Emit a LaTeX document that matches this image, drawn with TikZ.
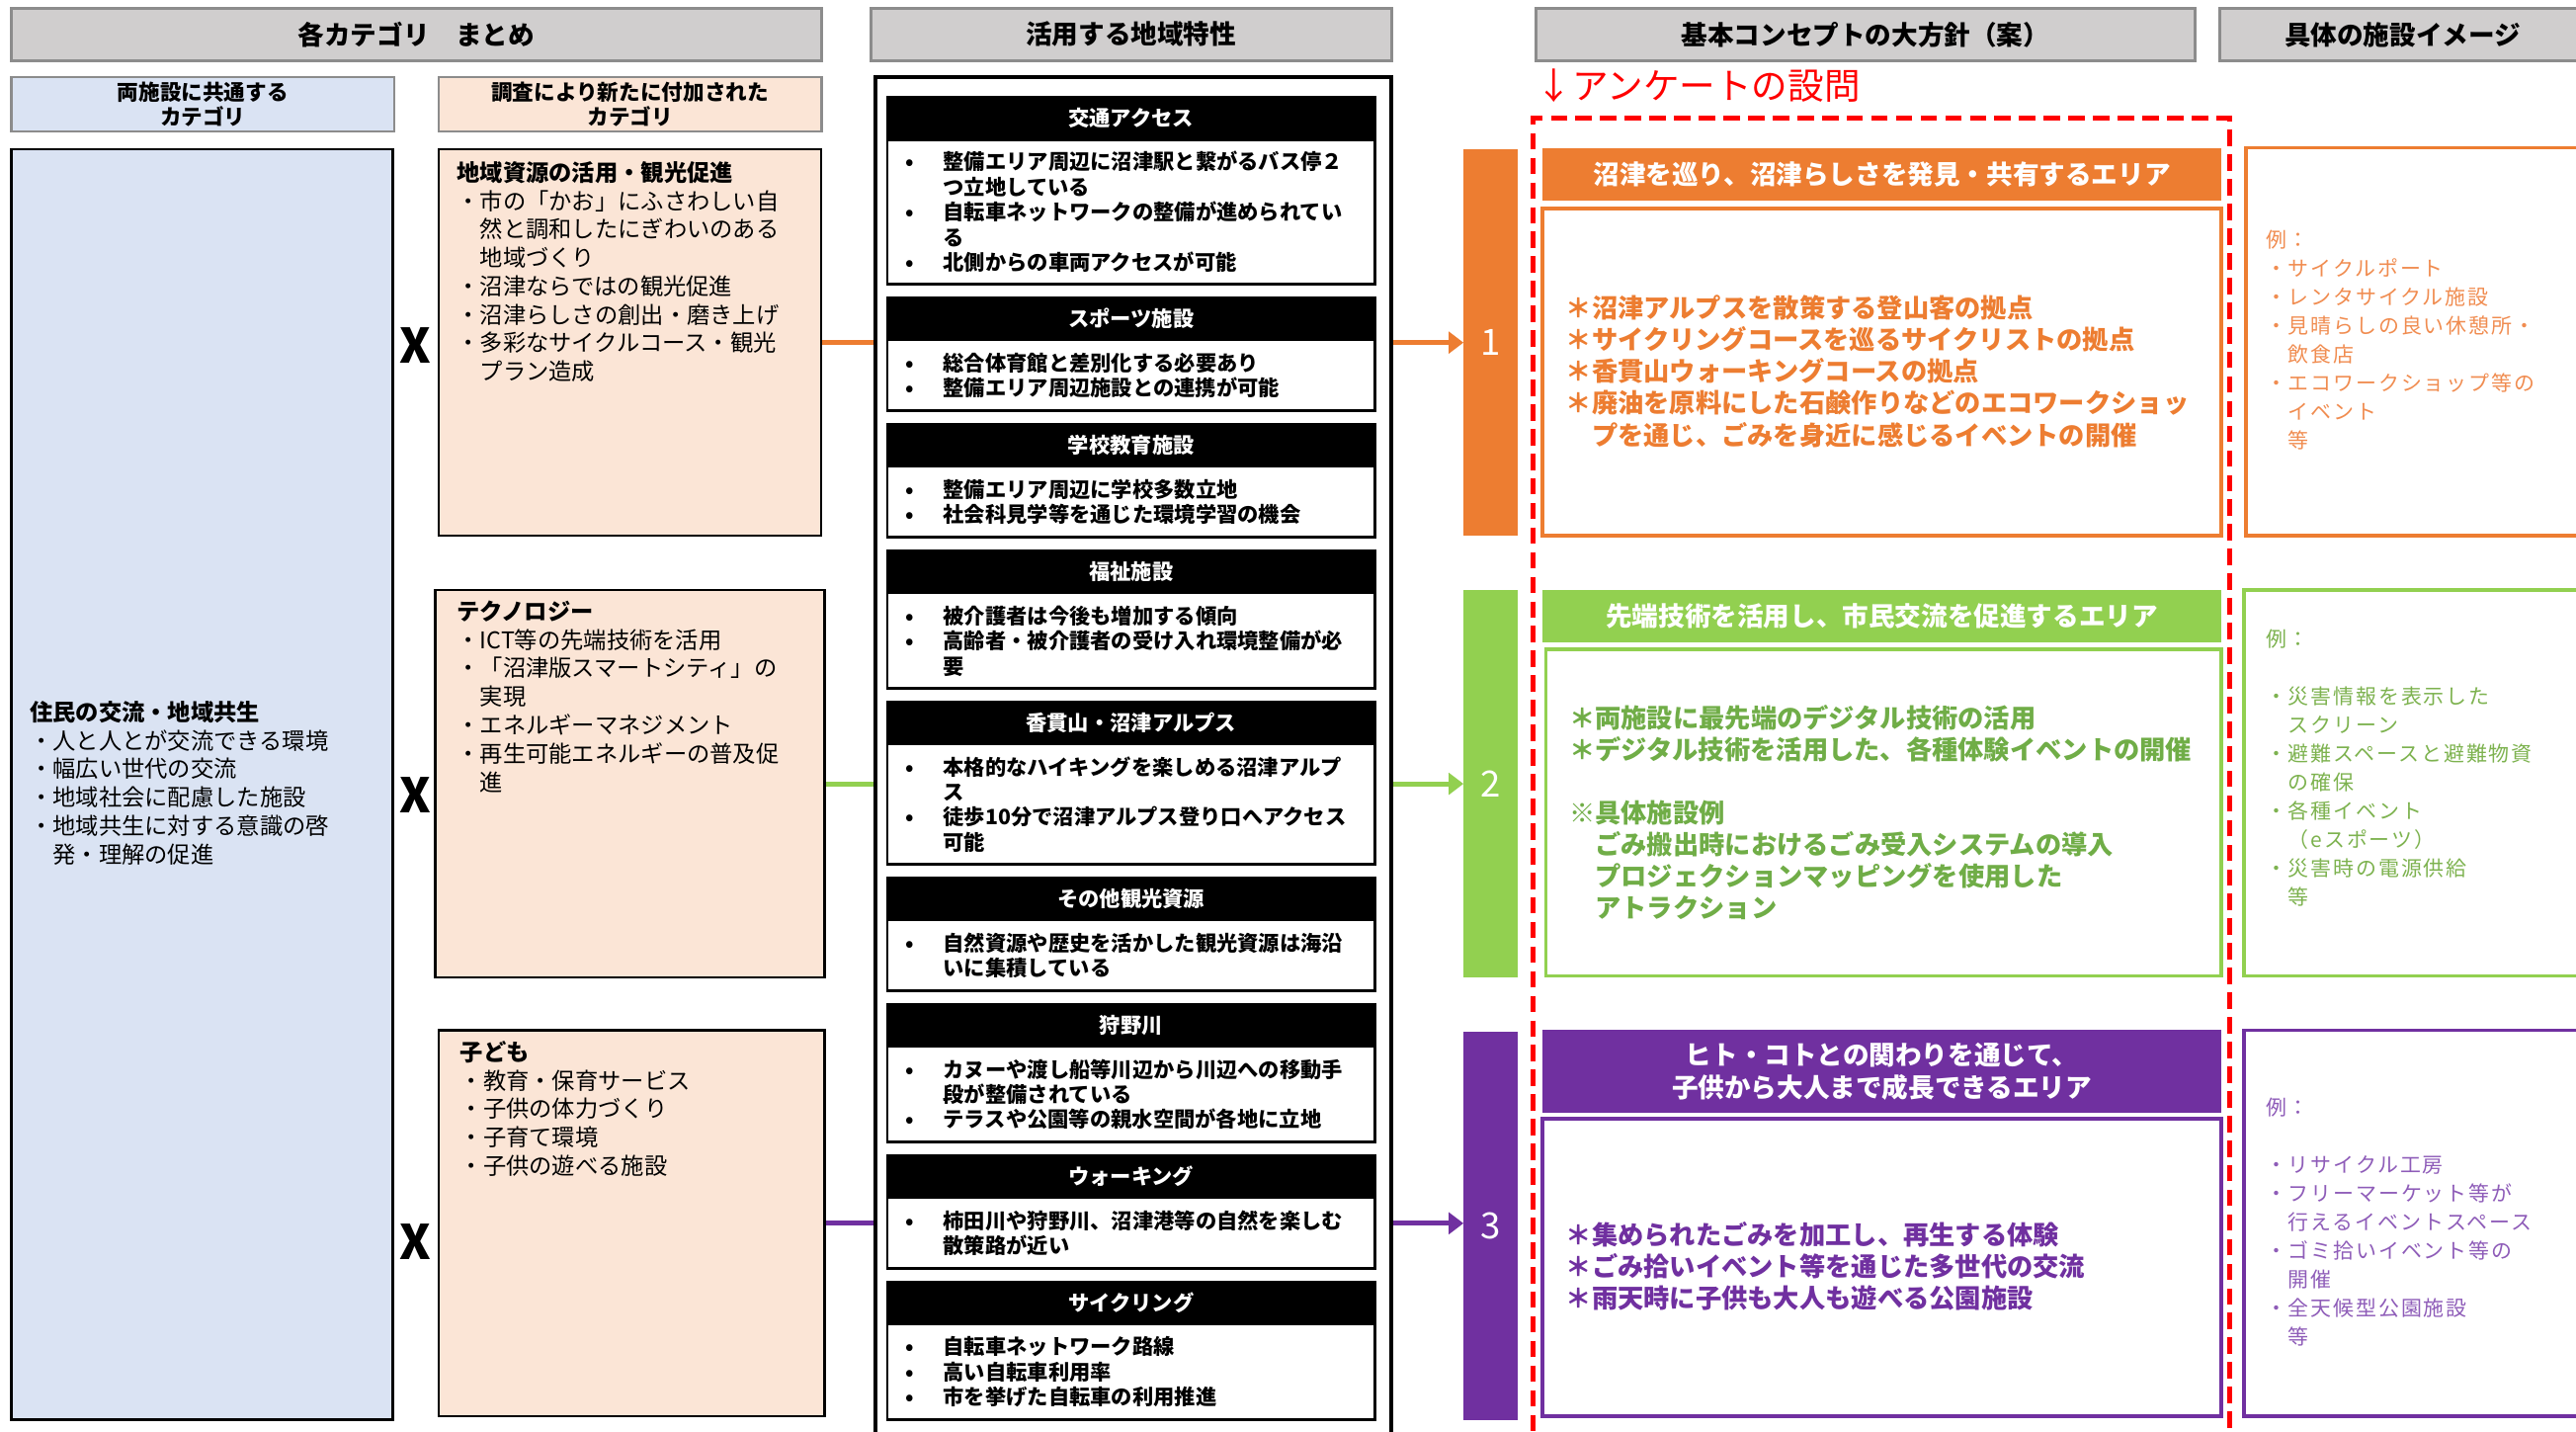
\documentclass[tikz,border=0pt]{standalone}
\usepackage{fontspec}
\setmainfont{Noto Sans CJK JP}
\newfontfamily\jpsp[LetterSpace=9]{Noto Sans CJK JP}
\usetikzlibrary{arrows.meta}
\definecolor{orgC}{HTML}{ED7D31}
\definecolor{grnC}{HTML}{92D050}
\definecolor{grnT}{HTML}{70AD47}
\definecolor{purC}{HTML}{7030A0}
\definecolor{peach}{HTML}{FBE5D6}
\definecolor{lblue}{HTML}{DAE3F3}
\definecolor{hgray}{HTML}{D0CECE}
\definecolor{bgray}{HTML}{8C8C8C}
\definecolor{orgL}{HTML}{F08C50}
\definecolor{grnL}{HTML}{7DB24F}
\definecolor{purL}{HTML}{8E5CB8}
\newcommand\fs[2]{\fontsize{#1}{#2}\selectfont}
\newcommand\bul{\makebox[26pt][l]{\hspace{3pt}•}}
\newcommand\ind{\makebox[26pt]{}}
\tikzset{
 hdr/.style={draw=bgray, fill=hgray, line width=1.6pt, minimum height=32pt, font=\fs{16}{19}\bfseries, inner sep=0},
 subhdr/.style={draw=bgray, line width=1.6pt, minimum height=33pt, align=center, font=\fs{13}{15}\bfseries, inner sep=0},
 catbox/.style={draw=black, line width=1.4pt, inner sep=0},
 cattxt/.style={anchor=north west, inner sep=0, align=left, font=\fs{14}{17.3}},
 sechead/.style={fill=black, draw=black, line width=1.2pt, text=white, font=\fs{12.8}{15}\bfseries, minimum width=297pt, minimum height=26pt, inner sep=0},
 secbody/.style={draw=black, fill=white, line width=1.5pt, minimum width=297pt, inner sep=0},
 sectxt/.style={anchor=west, inner sep=0, align=left, font=\fs{12.8}{15.3}\bfseries},
 numbar/.style={minimum width=33pt, inner sep=0, text=white, font=\fs{22}{24}},
 cband/.style={minimum width=413pt, inner sep=0, text=white, font=\fs{16}{20}\bfseries, align=center},
 cbody/.style={fill=white, line width=2.2pt, inner sep=0},
 ctxt/.style={anchor=north west, inner sep=0, align=left, font=\fs{15.8}{19.3}\bfseries},
 ibox/.style={line width=2.2pt, inner sep=0},
 itxt/.style={anchor=north west, inner sep=0, align=left, font=\jpsp\fs{12.6}{17.4}},
 xmark/.style={font=\fs{29}{29}\bfseries, inner sep=0},
 conn/.style={line width=3pt, -{Triangle[length=9pt,width=13pt]}},
}
\begin{document}
\begin{tikzpicture}[x=1pt,y=-1pt]
\useasboundingbox (0,0) rectangle (1568,871);
% ---------- headers
\node[hdr, minimum width=493pt] (hA) at (253.5,21) {各カテゴリ　まとめ};
\node[hdr, minimum width=317pt] (hB) at (688.5,21) {活用する地域特性};
\node[hdr, minimum width=401pt] (hC) at (1135.5,21) {基本コンセプトの大方針（案）};
\node[hdr, minimum width=223pt] (hD) at (1462.5,21) {具体の施設イメージ};
\node[subhdr, fill=lblue, minimum width=233pt] (sA) at (123.5,63.5) {両施設に共通する\\カテゴリ};
\node[subhdr, fill=peach, minimum width=233pt] (sB) at (383.5,63.5) {調査により新たに付加された\\カテゴリ};
% ---------- category boxes
\node[catbox, fill=lblue, minimum width=232pt, minimum height=773pt] (cA) at (123,477.5) {};
\node[catbox, fill=peach, minimum width=233pt, minimum height=235pt] (c1) at (383.5,208.5) {};
\node[catbox, fill=peach, minimum width=237pt, minimum height=236pt] (c2) at (383.5,477) {};
\node[catbox, fill=peach, minimum width=235pt, minimum height=235pt] (c3) at (384.5,744.5) {};
\node[cattxt] (tA) at (18,426.4) {\textbf{住民の交流・地域共生}\\・人と人とが交流できる環境\\・幅広い世代の交流\\・地域社会に配慮した施設\\・地域共生に対する意識の啓\\　発・理解の促進};
\node[cattxt] (t1) at (278,98) {\textbf{地域資源の活用・観光促進}\\・市の「かお」にふさわしい自\\　然と調和したにぎわいのある\\　地域づくり\\・沼津ならではの観光促進\\・沼津らしさの創出・磨き上げ\\・多彩なサイクルコース・観光\\　プラン造成};
\node[cattxt] (t2) at (278,365.4) {\textbf{テクノロジー}\\・ICT等の先端技術を活用\\・「沼津版スマートシティ」の\\　実現\\・エネルギーマネジメント\\・再生可能エネルギーの普及促\\　進};
\node[cattxt] (t3) at (280,633.4) {\textbf{子ども}\\・教育・保育サービス\\・子供の体力づくり\\・子育て環境\\・子供の遊べる施設};
\node[xmark] (x1) at (253,210) {X};
\node[xmark] (x2) at (253,484) {X};
\node[xmark] (x3) at (253,756) {X};
% ---------- number bars
\node[numbar, fill=orgC, minimum height=235pt] (n1) at (907.5,208.5) {1};
\node[numbar, fill=grnC, minimum height=236pt] (n2) at (907.5,477) {2};
\node[numbar, fill=purC, minimum height=236pt] (n3) at (907.5,746) {3};
% ---------- connectors
\draw[conn, orgC] (c1.east) -- (c1.east -| n1.west);
\draw[conn, grnC] (c2.east) -- (c2.east -| n2.west);
\draw[conn, purC] (c3.east) -- (c3.east -| n3.west);
% ---------- column 2
\node[draw=black, fill=white, line width=2.6pt, minimum width=314pt, minimum height=833pt, inner sep=0] (kb) at (690,463.5) {};
\node[secbody, minimum height=88pt] (k1b) at (688.5,129) {};
\node[sechead] (k1h) at (688.5,72) {交通アクセス};
\node[sectxt] (k1t) at (548,129) {\bul 整備エリア周辺に沼津駅と繋がるバス停２\\\ind つ立地している\\\bul 自転車ネットワークの整備が進められてい\\\ind る\\\bul 北側からの車両アクセスが可能};
\node[secbody, minimum height=43pt] (k2b) at (688.5,228.5) {};
\node[sechead] (k2h) at (688.5,194) {スポーツ施設};
\node[sectxt] (k2t) at (548,228.5) {\bul 総合体育館と差別化する必要あり\\\bul 整備エリア周辺施設との連携が可能};
\node[secbody, minimum height=43pt] (k3b) at (688.5,305.5) {};
\node[sechead] (k3h) at (688.5,271) {学校教育施設};
\node[sectxt] (k3t) at (548,305.5) {\bul 整備エリア周辺に学校多数立地\\\bul 社会科見学等を通じた環境学習の機会};
\node[secbody, minimum height=58pt] (k4b) at (688.5,390) {};
\node[sechead] (k4h) at (688.5,348) {福祉施設};
\node[sectxt] (k4t) at (548,390) {\bul 被介護者は今後も増加する傾向\\\bul 高齢者・被介護者の受け入れ環境整備が必\\\ind 要};
\node[secbody, minimum height=73pt] (k5b) at (688.5,489.5) {};
\node[sechead] (k5h) at (688.5,440) {香貫山・沼津アルプス};
\node[sectxt] (k5t) at (548,489.5) {\bul 本格的なハイキングを楽しめる沼津アルプ\\\ind ス\\\bul 徒歩10分で沼津アルプス登り口へアクセス\\\ind 可能};
\node[secbody, minimum height=43pt] (k6b) at (688.5,581.5) {};
\node[sechead] (k6h) at (688.5,547) {その他観光資源};
\node[sectxt] (k6t) at (548,581.5) {\bul 自然資源や歴史を活かした観光資源は海沿\\\ind いに集積している};
\node[secbody, minimum height=58pt] (k7b) at (688.5,666) {};
\node[sechead] (k7h) at (688.5,624) {狩野川};
\node[sectxt] (k7t) at (548,666) {\bul カヌーや渡し船等川辺から川辺への移動手\\\ind 段が整備されている\\\bul テラスや公園等の親水空間が各地に立地};
\node[secbody, minimum height=43pt] (k8b) at (688.5,750.5) {};
\node[sechead] (k8h) at (688.5,716) {ウォーキング};
\node[sectxt] (k8t) at (548,750.5) {\bul 柿田川や狩野川、沼津港等の自然を楽しむ\\\ind 散策路が近い};
\node[secbody, minimum height=58pt] (k9b) at (688.5,835) {};
\node[sechead] (k9h) at (688.5,793) {サイクリング};
\node[sectxt] (k9t) at (548,835) {\bul 自転車ネットワーク路線\\\bul 高い自転車利用率\\\bul 市を挙げた自転車の利用推進};
% ---------- column 3
\node[anchor=west, text=red, font=\fs{22}{24}, inner sep=0] (qlab) at (935,52) {↓アンケートの設問};
\node[cband, fill=orgC, minimum height=32pt] (b1) at (1145.5,106) {沼津を巡り、沼津らしさを発見・共有するエリア};
\node[cbody, draw=orgC, minimum width=413pt, minimum height=199pt] (d1) at (1145.5,226.5) {};
\node[ctxt, text=orgC] (d1t) at (953,179.6) {＊沼津アルプスを散策する登山客の拠点\\＊サイクリングコースを巡るサイクリストの拠点\\＊香貫山ウォーキングコースの拠点\\＊廃油を原料にした石鹸作りなどのエコワークショッ\\　プを通じ、ごみを身近に感じるイベントの開催};
\node[cband, fill=grnC, minimum height=32pt] (b2) at (1145.5,375) {先端技術を活用し、市民交流を促進するエリア};
\node[cbody, draw=grnC, minimum width=411pt, minimum height=199pt] (d2) at (1146.5,494.5) {};
\node[ctxt, text=grnT] (d2t) at (955,428.6) {＊両施設に最先端のデジタル技術の活用\\＊デジタル技術を活用した、各種体験イベントの開催\\\mbox{}\\※具体施設例\\　ごみ搬出時におけるごみ受入システムの導入\\　プロジェクションマッピングを使用した\\　アトラクション};
\node[cband, fill=purC, minimum height=50pt] (b3) at (1145.5,652) {ヒト・コトとの関わりを通じて、\\子供から大人まで成長できるエリア};
\node[cbody, draw=purC, minimum width=413pt, minimum height=181pt] (d3) at (1145.5,771.5) {};
\node[ctxt, text=purC] (d3t) at (953,743.6) {＊集められたごみを加工し、再生する体験\\＊ごみ拾いイベント等を通じた多世代の交流\\＊雨天時に子供も大人も遊べる公園施設};
\node[draw=red, line width=2.8pt, dash pattern=on 10pt off 5pt, minimum width=424pt, minimum height=808pt, inner sep=0] (qbox) at (1145,476) {};
% ---------- column 4
\node[ibox, draw=orgC, minimum width=213pt, minimum height=236pt] (e1) at (1473.5,208) {};
\node[itxt, text=orgL] (e1t) at (1379,140.2) {例：\\・サイクルポート\\・レンタサイクル施設\\・見晴らしの良い休憩所・\\　飲食店\\・エコワークショップ等の\\　イベント\\　等};
\node[ibox, draw=grnC, minimum width=214pt, minimum height=235pt] (e2) at (1473,476.5) {};
\node[itxt, text=grnL] (e2t) at (1379,383.2) {例：\\\mbox{}\\・災害情報を表示した\\　スクリーン\\・避難スペースと避難物資\\　の確保\\・各種イベント\\　（eスポーツ）\\・災害時の電源供給\\　等};
\node[ibox, draw=purC, minimum width=214pt, minimum height=235pt] (e3) at (1473,744.5) {};
\node[itxt, text=purL] (e3t) at (1379,668.2) {例：\\\mbox{}\\・リサイクル工房\\・フリーマーケット等が\\　行えるイベントスペース\\・ゴミ拾いイベント等の\\　開催\\・全天候型公園施設\\　等};
\end{tikzpicture}
\end{document}
